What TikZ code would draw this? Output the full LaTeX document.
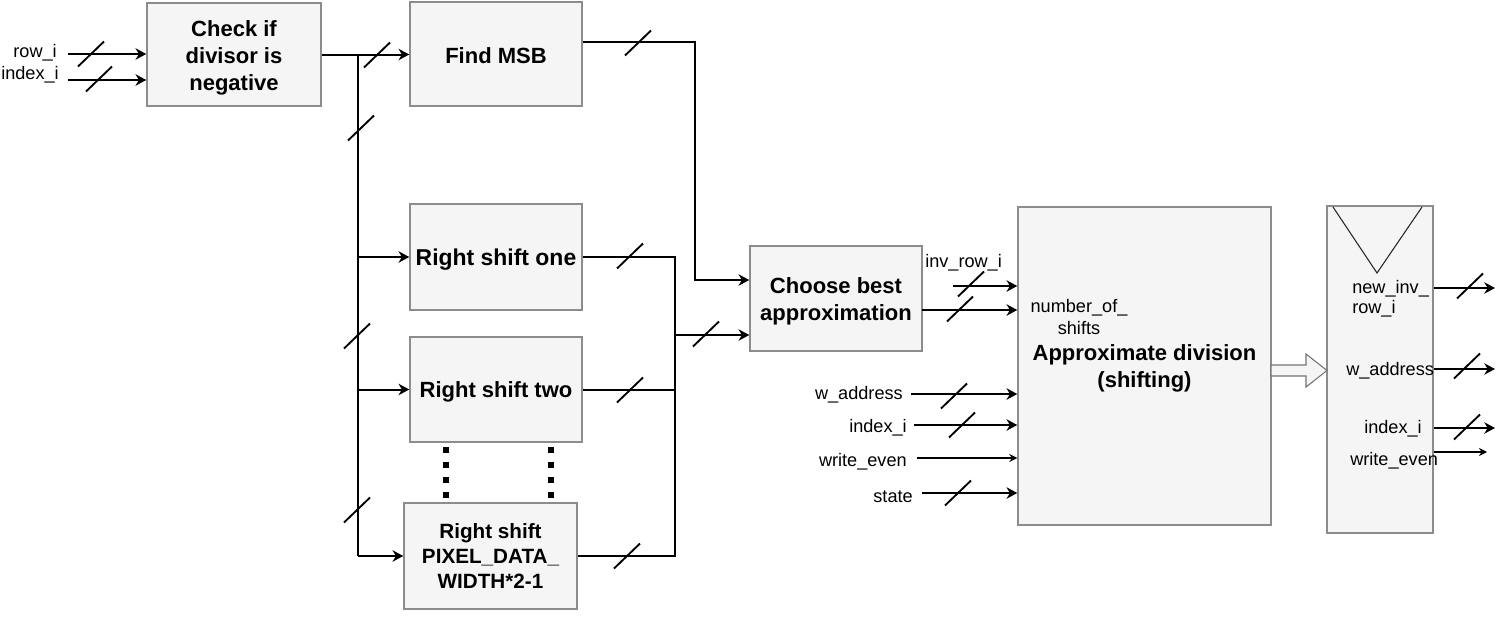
\documentclass[tikz,border=0pt]{standalone}
\usepackage{fontspec}
\setmainfont{Liberation Sans}
\usetikzlibrary{arrows.meta}
\definecolor{boxfill}{HTML}{F5F5F5}
\definecolor{boxline}{HTML}{8C8C8C}
\tikzset{bslash/.pic={\draw[line width=1.4pt] (-13,12.5) -- (13,-12.5);}}
\begin{document}
\begin{tikzpicture}[x=0.75pt,y=-0.75pt,
 blk/.style={draw=boxline, fill=boxfill, line width=1.1pt, inner sep=0pt},
 btxt/.style={align=center, inner sep=0pt, font=\bfseries\fontsize{16.5}{20}\selectfont},
 lbl/.style={inner sep=0pt, yshift=-1.5pt, font=\fontsize{13.6}{16.5}\selectfont},
 bus/.style={line width=1.5pt},
 arr/.style={-{Stealth[length=8pt,width=8.5pt,inset=2.5pt]}},
 thinarr/.style={line width=0.8pt, -{Stealth[length=6pt,width=6pt,inset=2pt]}}
]
\useasboundingbox (0,0) rectangle (1507,618);
% blocks
\node[blk, minimum width=130.5pt, minimum height=77.25pt] (chk) at (234,54.5) {};
\node[btxt] (tchk) at ([yshift=-2.5pt]chk.center) {Check if\\divisor is\\negative};
\node[blk, minimum width=129pt, minimum height=78pt] (msb) at (496,54) {};
\node[btxt] (tmsb) at ([yshift=-1pt]msb.center) {Find MSB};
\node[blk, minimum width=129pt, minimum height=79.5pt] (rs1) at (496,257) {};
\node[btxt, font=\bfseries\fontsize{17.2}{20}\selectfont] (trs1) at ([yshift=-2pt]rs1.center) {Right shift one};
\node[blk, minimum width=129pt, minimum height=78.75pt] (rs2) at (496,389.5) {};
\node[btxt] (trs2) at ([yshift=-2pt]rs2.center) {Right shift two};
\node[blk, minimum width=129.75pt, minimum height=79.5pt] (rsn) at (490.5,556) {};
\node[btxt, font=\bfseries\fontsize{15.5}{18.75}\selectfont] (trsn) at (rsn.center) {Right shift\\PIXEL\_DATA\_\\WIDTH*2-1};
\node[blk, minimum width=129pt, minimum height=78.75pt] (cba) at (836,298.5) {};
\node[btxt] (tcba) at ([yshift=-2.25pt]cba.center) {Choose best\\approximation};
\node[blk, minimum width=189.75pt, minimum height=238.5pt] (apx) at (1144.5,366) {};
\node[btxt] (tapx) at ([yshift=-2pt]apx.center) {Approximate division\\(shifting)};
\node[blk, minimum width=79.5pt, minimum height=245.25pt] (out) at (1380,369.5) {};
\draw[line width=0.8pt, black!85] (1333,207) -- (1377,273) -- (1422,207);
% dotted
\draw[line width=4pt, dash pattern=on 4.5pt off 6.75pt] (446,447) -- (446,500);
\draw[line width=4pt, dash pattern=on 4.5pt off 6.75pt] (551,447) -- (551,500);
% left inputs
\node[lbl, anchor=east] (lrow) at (57,51) {row\_i};
\node[lbl, anchor=east] (lidx) at (59,73) {index\_i};
\coordinate (srow) at (68,54);
\coordinate (sidx) at (68,80);
\draw[bus,arr] (srow) -- (chk.west |- srow);
\draw[bus,arr] (sidx) -- (chk.west |- sidx);
\pic at (91,54) {bslash};
\pic at (99,79) {bslash};
% check -> msb and bus
\coordinate (j) at (358,54);
\draw[bus,arr] (chk.east) -- (msb.west |- chk.east);
\draw[bus] (j) -- (j |- rsn.west);
\draw[bus,arr] (j |- rs1.west) -- (rs1.west);
\draw[bus,arr] (j |- rs2.west) -- (rs2.west);
\draw[bus,arr] (j |- rsn.west) -- (rsn.west);
\pic at (377,55) {bslash};
\pic at (361,128) {bslash};
\pic at (357,336) {bslash};
\pic at (357,510) {bslash};
% msb -> choose
\coordinate (c1) at (695,42);
\coordinate (in1) at (750,280);
\draw[bus,arr] (msb.east |- c1) -- (c1) |- (cba.west |- in1);
\pic at (638,43) {bslash};
% shifts -> choose
\coordinate (m) at (675,335);
\draw[bus] (rs1.east) -| (m);
\draw[bus] (rs2.east) -- (rs2.east -| m);
\draw[bus] (rsn.east) -| (m);
\draw[bus,arr] (m) -- (cba.west |- m);
\pic at (630,256) {bslash};
\pic at (630,390) {bslash};
\pic at (627,556) {bslash};
\pic at (706,334) {bslash};
% choose -> apx
\coordinate (co) at (922,310);
\draw[bus,arr] (co) -- (apx.west |- co);
\pic at (960,309) {bslash};
\node[lbl, anchor=west] (linv) at (925,261) {inv\_row\_i};
\coordinate (sinv) at (953,286);
\draw[bus,arr] (sinv) -- (apx.west |- sinv);
\pic at (971,284) {bslash};
\node[lbl, align=center] (lnum) at (1079,315) {number\_of\_\\shifts};
% other inputs
\node[lbl, anchor=east] (lwa) at (903,393) {w\_address};
\coordinate (swa) at (911,394);
\draw[bus,arr] (swa) -- (apx.west |- swa);
\pic at (954,396) {bslash};
\node[lbl, anchor=east] (lix) at (907,426) {index\_i};
\coordinate (six) at (914,425);
\draw[bus,arr] (six) -- (apx.west |- six);
\pic at (962,425) {bslash};
\node[lbl, anchor=east] (lwe) at (907,460) {write\_even};
\coordinate (swe) at (917,458);
\draw[thinarr] (swe) -- (apx.west |- swe);
\node[lbl, anchor=east] (lst) at (913,495) {state};
\coordinate (sst) at (922,493);
\draw[bus,arr] (sst) -- (apx.west |- sst);
\pic at (958,493) {bslash};
% hollow arrow
\draw[draw=black!55, fill=boxfill, line width=0.8pt] (1271,365) -- (1306,365) -- (1306,354) -- (1327,370.5) -- (1306,387) -- (1306,376) -- (1271,376) -- cycle;
% outputs
\node[lbl, anchor=west, align=left, font=\fontsize{13.6}{15}\selectfont] (lnew) at (1352,297) {new\_inv\_\\row\_i};
\node[lbl, anchor=west] (low) at (1346,369) {w\_address};
\node[lbl, anchor=west] (loi) at (1364,427) {index\_i};
\node[lbl, anchor=west] (lowe) at (1350,459) {write\_even};
\coordinate (o1) at (1495,288);
\coordinate (o2) at (1495,369);
\coordinate (o3) at (1495,428);
\coordinate (o4) at (1487,452);
\draw[bus,arr] (out.east |- o1) -- (o1);
\draw[bus,arr] (out.east |- o2) -- (o2);
\draw[bus,arr] (out.east |- o3) -- (o3);
\draw[thinarr] (out.east |- o4) -- (o4);
\pic at (1470,286) {bslash};
\pic at (1467,366) {bslash};
\pic at (1467,427) {bslash};
\end{tikzpicture}
\end{document}
